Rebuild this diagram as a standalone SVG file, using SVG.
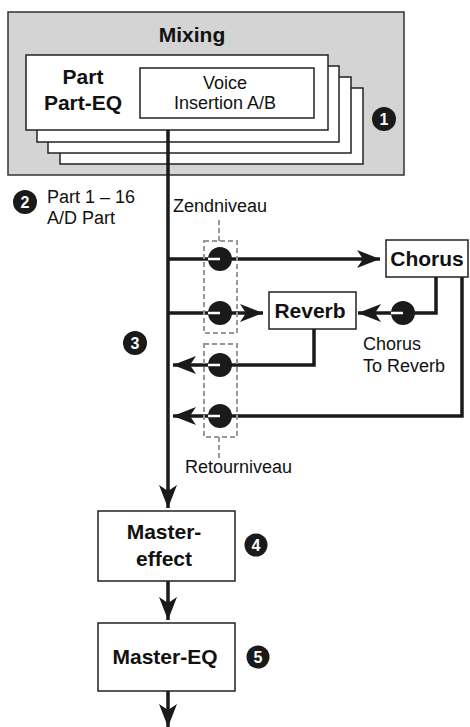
<svg xmlns="http://www.w3.org/2000/svg" width="470" height="727" viewBox="0 0 470 727">
<defs>
<style>
.box{fill:#fff;stroke:#222;stroke-width:1.5}
.b{font-family:"Liberation Sans",Arial,sans-serif;font-weight:bold;fill:#111;font-size:21px}
.r{font-family:"Liberation Sans",Arial,sans-serif;fill:#111;font-size:18px}
.ln{fill:none;stroke:#1a1a1a;stroke-width:3.5}
.dash{fill:none;stroke:#999;stroke-width:2;stroke-dasharray:5,3}
.knob{fill:#1a1a1a}
.ind{stroke:#fff;stroke-width:2.5}
.num{fill:#1a1a1a}
.nt{font-family:"Liberation Sans",Arial,sans-serif;font-weight:bold;fill:#fff;font-size:16px}
</style>
<marker id="ah" markerUnits="userSpaceOnUse" markerWidth="26" markerHeight="22" viewBox="-24 -11 26 22" refX="0" refY="0" orient="auto">
<path d="M0,0 L-23,-9 L-17,0 L-23,9 Z" fill="#1a1a1a"/>
</marker>
</defs>

<g id="mixing">
<rect x="8" y="12" width="396" height="163" fill="#d4d4d5" stroke="#333" stroke-width="1.5"/>
<text class="b" x="192" y="42" text-anchor="middle">Mixing</text>
<rect class="box" x="60" y="88" width="303" height="76"/>
<rect class="box" x="48" y="77" width="303" height="76"/>
<rect class="box" x="37" y="66" width="302" height="76"/>
<rect class="box" x="26" y="55" width="302" height="75"/>
<text class="b" x="83" y="84" text-anchor="middle">Part</text>
<text class="b" x="83" y="110" text-anchor="middle">Part-EQ</text>
</g>
<g id="voice">
<rect class="box" x="140" y="68" width="174" height="50"/>
<text class="r" x="225" y="89" text-anchor="middle">Voice</text>
<text class="r" x="225" y="109" text-anchor="middle">Insertion A/B</text>
</g>

<g id="chorus">
<rect class="box" x="386" y="240" width="82" height="37"/>
<text class="b" x="427" y="266" text-anchor="middle">Chorus</text>
</g>
<g id="reverb">
<rect class="box" x="269" y="292" width="87" height="37"/>
<text class="b" x="310" y="318" text-anchor="middle">Reverb</text>
</g>
<g id="mastereffect">
<rect class="box" x="98" y="511" width="137" height="70"/>
<text class="b" x="164" y="539" text-anchor="middle">Master-</text>
<text class="b" x="164" y="566" text-anchor="middle">effect</text>
</g>
<g id="mastereq">
<rect class="box" x="98" y="623" width="137" height="68"/>
<text class="b" x="165" y="664" text-anchor="middle">Master-EQ</text>
</g>

<g id="connectors">
<line class="ln" x1="168" y1="130" x2="168" y2="508" stroke-width="4" marker-end="url(#ah)"/>
<line class="ln" x1="168" y1="581" x2="168" y2="620" stroke-width="4" marker-end="url(#ah)"/>
<line class="ln" x1="168" y1="691" x2="168" y2="727" stroke-width="4" marker-end="url(#ah)"/>
<line class="ln" x1="168" y1="259" x2="380" y2="259" marker-end="url(#ah)"/>
<line class="ln" x1="168" y1="313" x2="263" y2="313" marker-end="url(#ah)"/>
<polyline class="ln" points="436,277 436,313 358,313" marker-end="url(#ah)"/>
<polyline class="ln" points="314,329 314,365 173,365" marker-end="url(#ah)"/>
<polyline class="ln" points="462,277 462,416 173,416" marker-end="url(#ah)"/>
</g>

<g id="levels">
<line class="dash" x1="219" y1="220" x2="219" y2="241"/>
<rect class="dash" x="204" y="241" width="33" height="92"/>
<rect class="dash" x="204" y="344" width="33" height="93"/>
<line class="dash" x1="219" y1="437" x2="219" y2="460"/>
<circle class="knob" cx="220" cy="259" r="12"/>
<line class="ind" x1="208" y1="259" x2="220" y2="259"/>
<circle class="knob" cx="220" cy="313" r="12"/>
<line class="ind" x1="208" y1="313" x2="220" y2="313"/>
<circle class="knob" cx="220" cy="365" r="12"/>
<line class="ind" x1="208" y1="365" x2="220" y2="365"/>
<circle class="knob" cx="220" cy="416" r="12"/>
<line class="ind" x1="208" y1="416" x2="220" y2="416"/>
<circle class="knob" cx="403" cy="313" r="12"/>
<line class="ind" x1="391" y1="313" x2="403" y2="313"/>
<text class="r" x="173" y="212">Zendniveau</text>
<text class="r" x="185" y="473">Retourniveau</text>
<text class="r" x="363" y="350">Chorus</text>
<text class="r" x="363" y="372">To Reverb</text>
</g>

<g id="labels">
<text class="r" x="47" y="203">Part 1 – 16</text>
<text class="r" x="47" y="224">A/D Part</text>
</g>

<g id="bullets">
<circle class="num" cx="384" cy="119" r="12"/>
<text class="nt" x="384" y="125" text-anchor="middle">1</text>
<circle class="num" cx="25" cy="202" r="12"/>
<text class="nt" x="25" y="208" text-anchor="middle">2</text>
<circle class="num" cx="135" cy="343" r="12"/>
<text class="nt" x="135" y="349" text-anchor="middle">3</text>
<circle class="num" cx="256" cy="545" r="11.5"/>
<text class="nt" x="256" y="551" text-anchor="middle">4</text>
<circle class="num" cx="258" cy="657" r="11.5"/>
<text class="nt" x="258" y="663" text-anchor="middle">5</text>
</g>
</svg>
